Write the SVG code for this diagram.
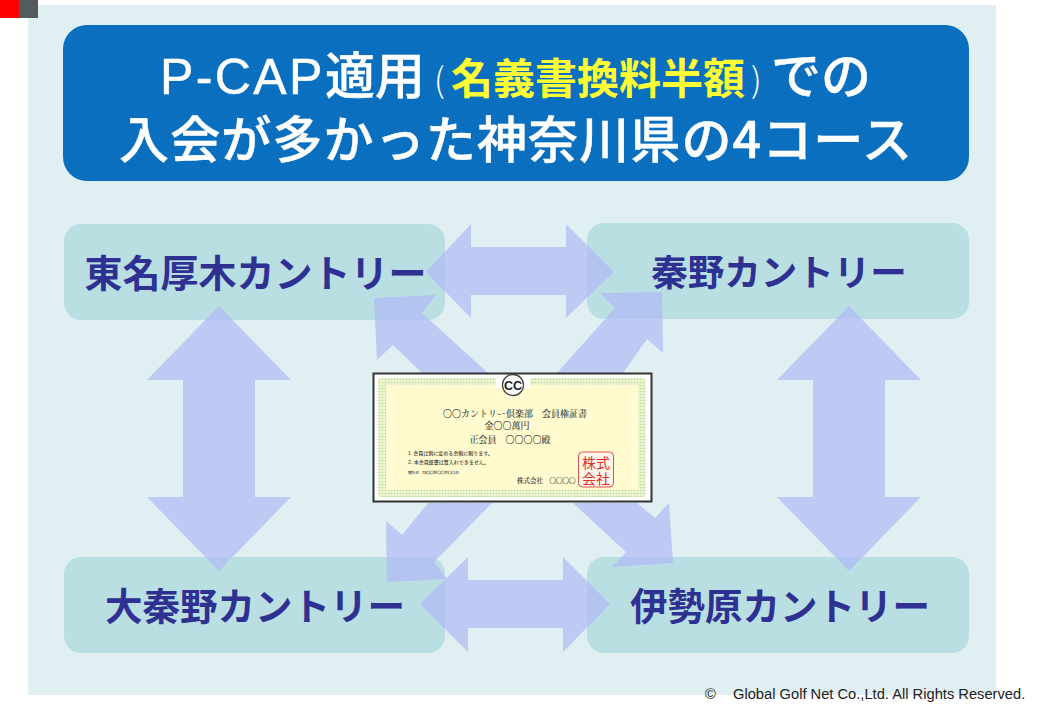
<svg xmlns="http://www.w3.org/2000/svg" width="1040" height="720" viewBox="0 0 1040 720">
<style>
.nb{fill:#b9dfe3}
.nl{font-family:"Noto Sans CJK JP",sans-serif;font-size:38px;font-weight:700;fill:#2e3192;text-anchor:middle}
.tt{font-family:"Noto Sans CJK JP",sans-serif;font-size:50px;fill:#fff;font-weight:500;stroke:#fff;stroke-width:.5}
.la{font-family:"Liberation Sans",sans-serif;letter-spacing:2.4px}
.pa{font-size:34px;font-weight:300;stroke:none}
.ye{font-size:42px;font-weight:700;fill:#ffff33;stroke:none}
.ar{fill:#b0baf5;fill-opacity:.72}
.ct{font-family:"Noto Serif CJK JP","Noto Sans CJK JP",serif;fill:#333;stroke:#333;stroke-width:.12}
.st{font-family:"Noto Sans CJK JP",sans-serif;font-size:14px;fill:#d9302a;text-anchor:middle}
</style>
<defs>
<pattern id="gl" width="3" height="3" patternUnits="userSpaceOnUse"><rect width="3" height="3" fill="#f6f9e2"/><circle cx="1.500" cy="1.500" r="1.100" fill="#c4df97"/></pattern>
</defs>
<rect width="1040" height="720" fill="#fff"/>
<rect x="28" y="5" width="968" height="690" fill="#e0eff1"/>
<rect x="0" y="0" width="19" height="18" fill="#ff0000"/>
<rect x="19" y="0" width="19" height="18" fill="#555a5c"/>
<g id="title">
<rect x="63" y="25" width="906" height="156" rx="24" fill="#0a6fbe"/>
<text class="tt"><tspan class="la" x="160" y="94">P-CAP</tspan><tspan x="325" y="94">適用</tspan><tspan class="pa" x="434" y="92">(</tspan><tspan class="ye" x="451" y="94">名義書換料半額</tspan><tspan class="pa" x="751" y="92">)</tspan><tspan x="771" y="94">での</tspan><tspan x="119" y="158" textLength="793">入会が多かった神奈川県の4コース</tspan></text>
</g>
<g id="node-tomei"><rect class="nb" x="64" y="224" width="381" height="96" rx="17"/><text class="nl" x="255.500" y="287">東名厚木カントリー</text></g>
<g id="node-hadano"><rect class="nb" x="587" y="223" width="382" height="96" rx="17"/><text class="nl" style="font-size:36.500px" x="779" y="286">秦野カントリー</text></g>
<g id="node-ohadano"><rect class="nb" x="64" y="557" width="381" height="96" rx="17"/><text class="nl" style="font-size:37.500px" x="255" y="620">大秦野カントリー</text></g>
<g id="node-isehara"><rect class="nb" x="587" y="557" width="382" height="96" rx="17"/><text class="nl" style="font-size:37.500px" x="780" y="620">伊勢原カントリー</text></g>
<g id="connectors">
<polygon class="ar" points="426,272 471,224 471,247 566,247 566,224 614,272 566,318 566,295 471,295 471,318"/>
<polygon class="ar" points="420,604 468,557 468,580 563,580 563,557 610,604 563,652 563,628 468,628 468,652"/>
<polygon class="ar" points="219,306 291,380 255,380 255,497 291,497 219,571 147,497 183,497 183,380 147,380"/>
<polygon class="ar" points="849,306 921,380 885,380 885,497 921,497 849,571 777,497 813,497 813,380 777,380"/>
<polygon class="ar" points="374,298 436,295 422,313 488,373 422,373 393,345 377,360"/>
<polygon class="ar" points="662,292 600,293 615,308 557,373 623,373 647,339 663,353"/>
<polygon class="ar" points="387,582 447,579 434,562 492,503 428,503 402,535 386,521"/>
<polygon class="ar" points="673,563 612,567 626,552 573,503 637,503 655,518 669,503"/>
</g>
<g id="certificate">
<rect x="373.500" y="373.500" width="278" height="128" fill="#fff" stroke="#333" stroke-width="2"/>
<rect x="378" y="378" width="268" height="119" rx="3" fill="url(#gl)"/>
<rect x="386" y="385" width="252" height="105" fill="#fffbcf"/>
<rect x="496" y="376" width="34" height="12" fill="#fff"/>
<circle cx="513" cy="385" r="10.500" fill="#fff" stroke="#444" stroke-width="1.300"/>
<text x="513" y="390" font-family="Liberation Sans,sans-serif" font-size="12.500" font-weight="700" fill="#222" text-anchor="middle">CC</text>
<text class="ct" font-size="9" text-anchor="middle"><tspan x="515" y="417">○○カントリー倶楽部　会員権証書</tspan><tspan x="507" y="429">金○○萬円</tspan><tspan x="510" y="443">正会員　○○○○殿</tspan></text>
<text class="ct" font-size="5"><tspan x="408" y="455">1. 会員は別に定める会則に則ります。</tspan><tspan x="408" y="464">2. 本会員証書は質入れできません。</tspan><tspan x="408" y="474" font-size="3.600">発行日　20○○年○○月○○日</tspan></text>
<text class="ct" x="517" y="483" font-size="6.500">株式会社　○○○○</text>
<rect x="578.500" y="452" width="35" height="35" rx="4" fill="#fff5e8" stroke="#d9534a" stroke-width="1"/>
<text class="st"><tspan x="596" y="468">株式</tspan><tspan x="596" y="484">会社</tspan></text>
</g>
<text font-family="Liberation Sans,sans-serif" font-size="14.700" fill="#222"><tspan x="705" y="699">©</tspan><tspan x="733" y="699">Global Golf Net Co.,Ltd. All Rights Reserved.</tspan></text>
</svg>
